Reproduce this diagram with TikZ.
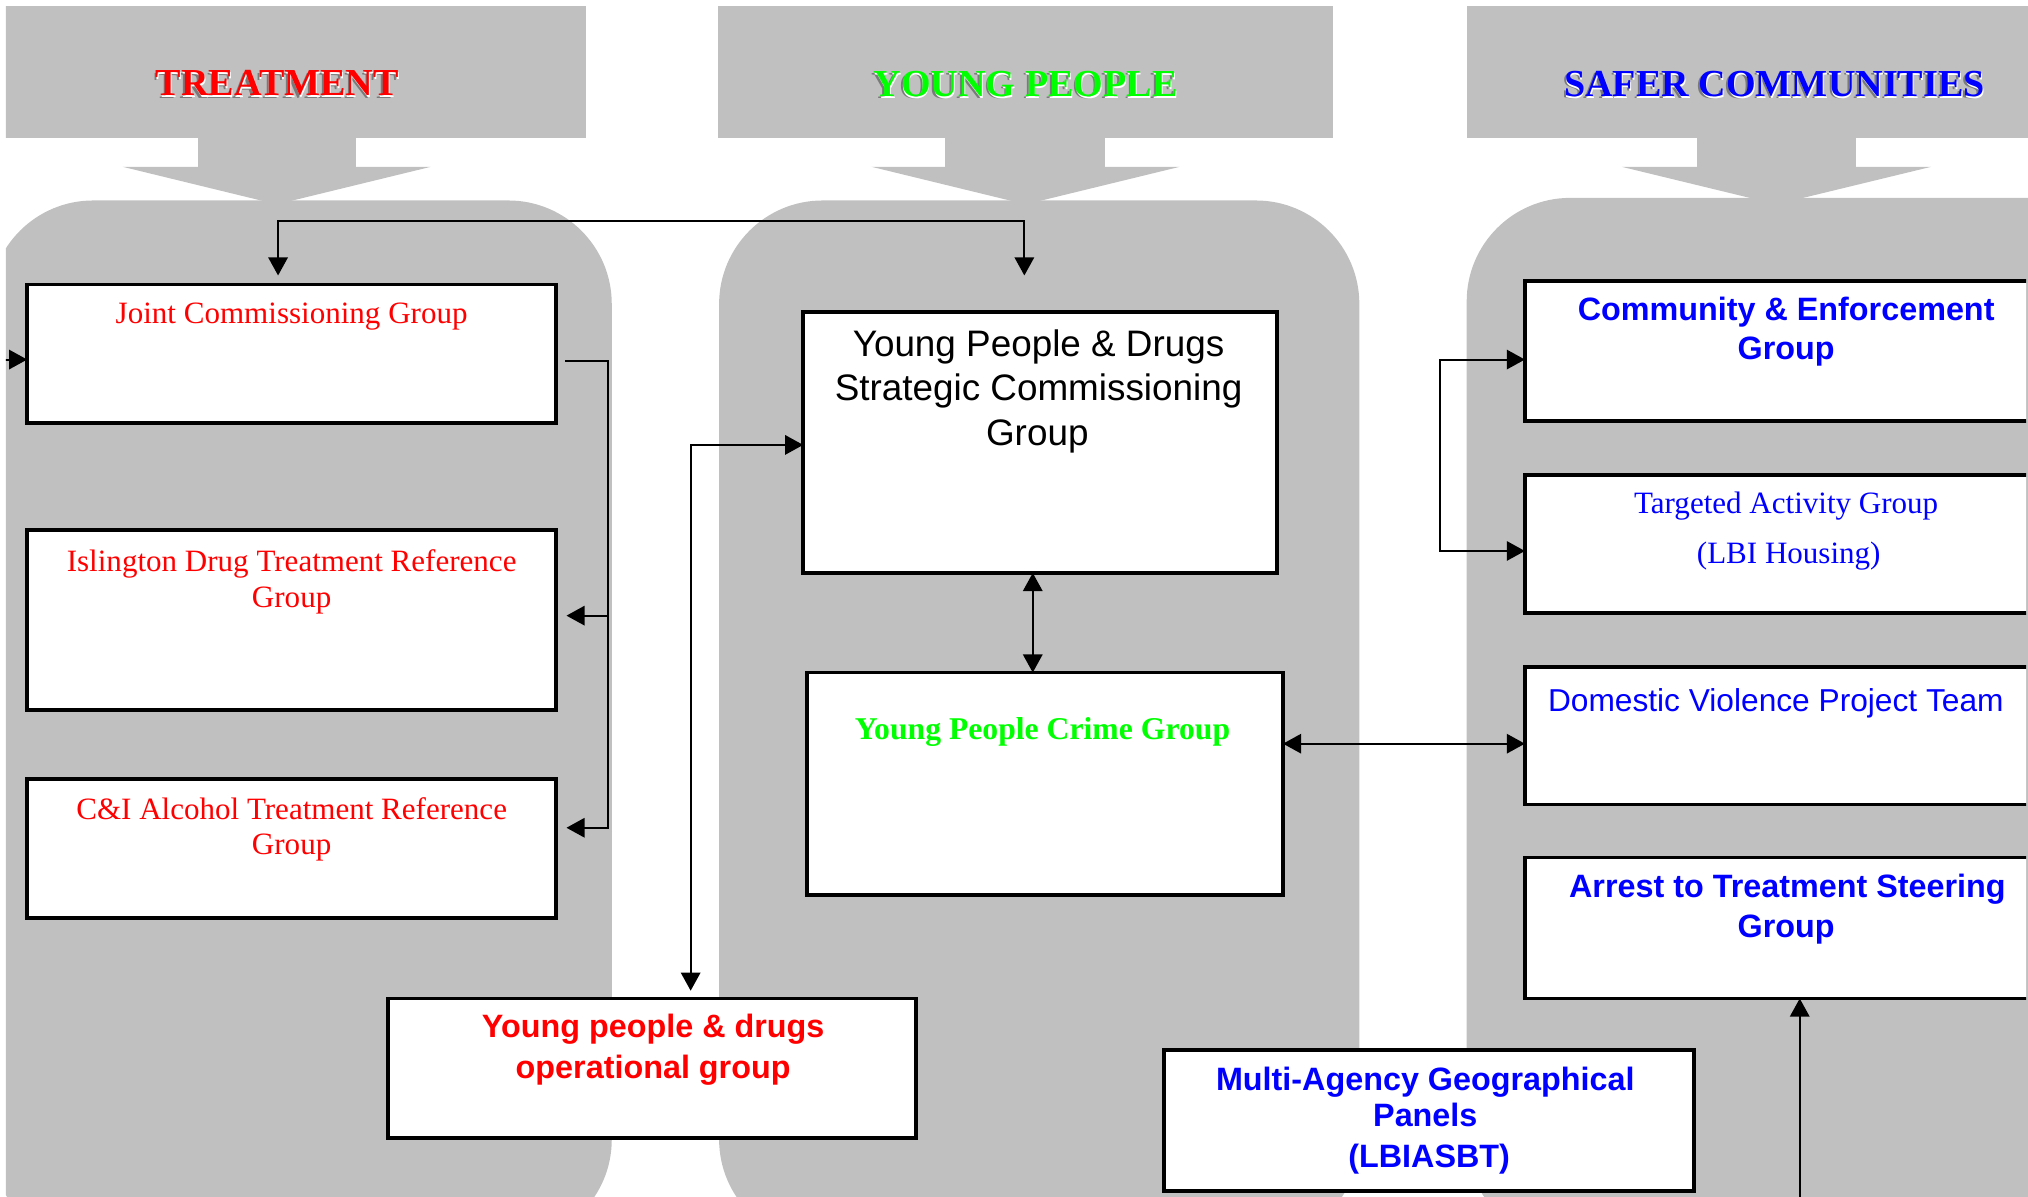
\documentclass[tikz,border=0pt]{standalone}
\usepackage{fontspec}
\newfontfamily\ars{Liberation Sans}
\newfontfamily\tnr{Liberation Serif}
\usetikzlibrary{calc,arrows.meta}

\definecolor{panel}{HTML}{C0C0C0}
\definecolor{shade}{HTML}{7A7A7A}
\definecolor{tred}{HTML}{FF0000}
\definecolor{tgreen}{HTML}{00FF00}
\definecolor{tblue}{HTML}{0000FF}

\tikzset{
  box/.style={draw=black, line width=3pt, fill=white, rectangle, inner sep=0pt, outer sep=0pt},
  conn/.style={draw=black, line width=1.5pt},
  >={Triangle[length=14pt,width=15pt]},
  ln/.style={anchor=base, inner sep=0pt},
  tr/.style={ln, font={\tnr\fontsize{24}{28}\selectfont}},
  trb/.style={ln, font={\tnr\bfseries\fontsize{24.5}{28}\selectfont}},
  ar/.style={ln, font={\ars\fontsize{24.5}{28}\selectfont}},
  arb/.style={ln, font={\ars\bfseries\fontsize{25}{30}\selectfont}},
  arl/.style={ln, font={\ars\fontsize{28.5}{34}\selectfont}},
  hd/.style={ln, font={\tnr\bfseries\fontsize{29.5}{34}\selectfont}},
}

% heading with embossed shadow: name, x, y, colour, text
\newcommand\headline[5]{%
  \node[hd, text=shade] (#1-sh) at (#2-1.4,#3+1.8) {#5};
  \node[hd, text=white] (#1-hl) at (#2+0.6,#3+1.4) {#5};
  \node[hd, text=#4] (#1) at (#2,#3) {#5};
}

\begin{document}
\begin{tikzpicture}[x=1pt,y=-1pt]
\useasboundingbox (0,0) rectangle (1568,925);
\clip (4.5,4.5) rectangle (1568,925);

% ---- heading bars and their block arrows
\fill[panel] (-8,5) rectangle (453,107);
\fill[panel] (555,5) rectangle (1031,107);
\fill[panel] (1134,5) rectangle (1600,107);

\fill[panel] (153,105) rectangle (275,131);
\fill[panel] (95,129) -- (333,129) -- (214,158) -- cycle;
\fill[panel] (731,105) rectangle (854,131);
\fill[panel] (674,129) -- (912,129) -- (793,158) -- cycle;
\fill[panel] (1312,105) rectangle (1435,131);
\fill[panel] (1254,129) -- (1493,129) -- (1373.5,158) -- cycle;

% ---- rounded columns
\fill[panel, rounded corners=80pt] (-8,961) -- (-8,155) -- (473,155) -- (473,961) -- cycle;
\fill[panel, rounded corners=80pt] (556,961) -- (556,155) -- (1051,155) -- (1051,961) -- cycle;
\fill[panel, rounded corners=80pt] (1134,961) -- (1134,153) -- (1650,153) -- (1650,961) -- cycle;

% ---- headings
\headline{treat}{214.5}{74}{tred}{TREATMENT}
\headline{young}{793}{74.5}{tgreen}{YOUNG PEOPLE}
\headline{safer}{1372}{74.5}{tblue}{SAFER COMMUNITIES}

% ---- treatment boxes
\node[box, minimum width=409pt, minimum height=107pt] (jcg) at (225.5,273.5) {};
\node[box, minimum width=409pt, minimum height=139pt] (idtrg) at (225.5,479.5) {};
\node[box, minimum width=409pt, minimum height=108pt] (cai) at (225.5,656) {};
\node[box, minimum width=408pt, minimum height=108pt] (opg) at (504,826) {};

% ---- young people boxes
\node[box, minimum width=366pt, minimum height=202pt] (ypdscg) at (804,342) {};
\node[box, minimum width=368pt, minimum height=172pt] (ypcg) at (808,606) {};

% ---- safer communities boxes (run off the right edge)
\begin{scope}
  \clip (1100,0) rectangle (1566.5,925);
  \node[box, minimum width=409pt, minimum height=108.5pt] (ceg) at (1383.5,271.25) {};
  \node[box, minimum width=409pt, minimum height=107pt] (tag) at (1383.5,420.5) {};
  \node[box, minimum width=409pt, minimum height=106pt] (dvpt) at (1383.5,569) {};
  \node[box, minimum width=409pt, minimum height=109pt] (atsg) at (1383.5,717.5) {};
\end{scope}
\node[box, minimum width=410pt, minimum height=109pt] (mag) at (1105,866.5) {};

% ---- box texts
\node[tr, text=tred] (jcg-1) at (225.5,250) {Joint Commissioning Group};
\node[tr, text=tred] (idtrg-1) at (225.5,442) {Islington Drug Treatment Reference};
\node[tr, text=tred] (idtrg-2) at (225.5,469.5) {Group};
\node[tr, text=tred] (cai-1) at (225.5,633.5) {C\&I Alcohol Treatment Reference};
\node[tr, text=tred] (cai-2) at (225.5,661) {Group};
\node[arb, text=tred] (opg-1) at (505,802) {Young people \& drugs};
\node[arb, text=tred] (opg-2) at (505,834) {operational group};

\node[arl, text=black] (ypdscg-1) at (803,276) {Young People \& Drugs};
\node[arl, text=black] (ypdscg-2) at (803,310) {Strategic Commissioning};
\node[arl, text=black] (ypdscg-3) at (802,344.5) {Group};
\node[trb, text=tgreen] (ypcg-1) at (806,572) {Young People Crime Group};

\node[arb, text=tblue] (ceg-1) at (1381,248) {Community \& Enforcement};
\node[arb, text=tblue] (ceg-2) at (1381,278) {Group};
\node[tr, text=tblue] (tag-1) at (1381,397) {Targeted Activity Group};
\node[tr, text=tblue] (tag-2) at (1383,436) {(LBI Housing)};
\node[ar, text=tblue] (dvpt-1) at (1373,550) {Domestic Violence Project Team};
\node[arb, text=tblue] (atsg-1) at (1382,694) {Arrest to Treatment Steering};
\node[arb, text=tblue] (atsg-2) at (1381,725) {Group};
\node[arb, text=tblue] (mag-1) at (1102,843) {Multi-Agency Geographical};
\node[arb, text=tblue] (mag-2) at (1102,871) {Panels};
\node[arb, text=tblue] (mag-3) at (1105,903) {(LBIASBT)};

% ---- connectors
\draw[conn,<->] ($(jcg.north)+(-10.5,-7)$) -- ++(0,-42) -| ($(ypdscg.north)+(-12,-28)$);

\coordinate (lft) at (4,278);
\draw[conn,->] (lft) -- (lft -| jcg.west);

\coordinate (jbus) at (470,279);
\draw[conn,->] ($(jcg.east)+(7,5.5)$) -- (jbus) |- ($(idtrg.east)+(8,-3.5)$);
\draw[conn,->] (jbus) |- ($(cai.east)+(8,-16)$);

\draw[conn,<->] ($(opg.north)+(30,-6)$) |- ($(ypdscg.west)+(0,2)$);
\draw[conn,<->] ($(ypdscg.south)+(-5.5,0)$) -- ($(ypcg.north)+(-9.5,0)$);
\draw[conn,<->] ($(ypcg.east)+(0,-31)$) -- ($(dvpt.west)+(0,6)$);
\draw[conn,<->] ($(ceg.west)+(0,6.75)$) -- ++(-66,0) |- ($(tag.west)+(0,5.5)$);

\coordinate (atsgfeed) at (1391.5,930);
\draw[conn,->] (atsgfeed) -- (atsgfeed |- atsg.south);
\end{tikzpicture}
\end{document}
